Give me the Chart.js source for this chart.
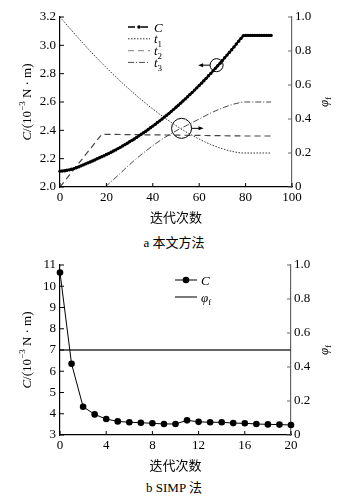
<!DOCTYPE html>
<html>
<head>
<meta charset="utf-8">
<script src="https://cdn.jsdelivr.net/npm/chart.js"></script>
<style>
  html, body { margin: 0; padding: 0; background: #fff; }
  #wrap { position: relative; width: 359px; height: 500px; }
  .box { position: absolute; left: 0; width: 359px; }
  .cap { position: absolute; left: 0; width: 348px; text-align: center; line-height: 18px;
         font-size: 13px; color: #000; font-family: "Liberation Serif", "Noto Sans CJK SC", serif; }
</style>
</head>
<body>
<div id="wrap">
  <div class="box" style="top:0;height:230px"><canvas id="topChart" width="359" height="230"></canvas></div>
  <div class="cap" style="top:234px">a 本文方法</div>
  <div class="box" style="top:248px;height:230px"><canvas id="simpChart" width="359" height="230"></canvas></div>
  <div class="cap" style="top:479px">b SIMP 法</div>
</div>

<script>
  // ---- data: chart a (本文方法) ----
  const topIter = Array.from({ length: 92 }, (_, i) => i);
  const topC = [
    2.112, 2.113, 2.115, 2.118, 2.121, 2.125, 2.130, 2.136, 2.142, 2.149,
    2.156, 2.163, 2.170, 2.177, 2.184, 2.191, 2.199, 2.206, 2.214, 2.221,
    2.229, 2.237, 2.245, 2.254, 2.262, 2.271, 2.280, 2.290, 2.299, 2.309,
    2.319, 2.329, 2.339, 2.350, 2.361, 2.372, 2.383, 2.394, 2.406, 2.418,
    2.430, 2.442, 2.455, 2.467, 2.480, 2.494, 2.507, 2.520, 2.534, 2.548,
    2.563, 2.577, 2.592, 2.607, 2.622, 2.637, 2.653, 2.668, 2.684, 2.700,
    2.717, 2.733, 2.750, 2.767, 2.785, 2.802, 2.820, 2.838, 2.856, 2.874,
    2.893, 2.912, 2.931, 2.950, 2.969, 2.989, 3.009, 3.029, 3.049, 3.068,
    3.070, 3.070, 3.070, 3.070, 3.070, 3.070, 3.070, 3.070, 3.070, 3.070,
    3.070, 3.070
  ];
  const t1Iter = [0, 5, 10, 15, 20, 25, 30, 35, 40, 45, 50, 55, 60, 65, 70, 75, 79, 91];
  const t1Val = [1.0, 0.921, 0.844, 0.771, 0.702, 0.635, 0.573, 0.514, 0.459, 0.408,
                 0.361, 0.319, 0.282, 0.250, 0.225, 0.207, 0.200, 0.200];
  const t2Iter = [0, 18, 50, 79, 91];
  const t2Val = [0, 0.31, 0.305, 0.30, 0.30];
  const t3Iter = [19.5, 25, 30, 35, 40, 45, 50, 55, 60, 65, 70, 75, 80, 91];
  const t3Val = [0, 0.068, 0.132, 0.19, 0.243, 0.29, 0.33, 0.365, 0.40, 0.435, 0.465, 0.488, 0.5, 0.5];
  const topNames = ['C', 't1', 't2', 't3'];
  const topXTicks = [0, 20, 40, 60, 80, 100];
  const topYTicks = [2.0, 2.2, 2.4, 2.6, 2.8, 3.0, 3.2];
  const phiTicks = [0, 0.2, 0.4, 0.6, 0.8, 1.0];

  // ---- data: chart b (SIMP 法) ----
  const simpIter = [0, 1, 2, 3, 4, 5, 6, 7, 8, 9, 10, 11, 12, 13, 14, 15, 16, 17, 18, 19, 20];
  const simpC = [10.65, 6.35, 4.33, 3.97, 3.75, 3.64, 3.60, 3.58, 3.55, 3.52, 3.52,
                 3.69, 3.62, 3.60, 3.60, 3.56, 3.55, 3.52, 3.50, 3.49, 3.47];
  const simpPhiIter = [0, 20];
  const simpPhi = [0.5, 0.5];
  const simpNames = ['C', 'φf'];
  const simpXTicks = [0, 4, 8, 12, 16, 20];
  const simpYTicks = [3, 4, 5, 6, 7, 8, 9, 10, 11];

  const SERIF = '"Liberation Serif", "DejaVu Serif", serif';
  const CJK = '"Noto Sans CJK SC", sans-serif';
  const tickFont = { family: SERIF, size: 13 };

  const pts = (xs, ys) => xs.map((x, i) => ({ x: x, y: ys[i] }));

  // rich text: first char italic, the rest as subscript
  function nameParts(name) {
    const p = [{ t: name[0], i: true }];
    if (name.length > 1) p.push({ t: name.slice(1), sub: true });
    return p;
  }
  const yTitleParts = [{ t: 'C', i: true }, { t: '/(10' }, { t: '−3', sup: true }, { t: ' N · m)' }];
  const rTitleParts = [{ t: 'φ', i: true }, { t: 'f', sub: true }];

  function setFont(ctx, p, size) {
    const s = (p.sub || p.sup) ? Math.round(size * 0.72) : size;
    ctx.font = (p.i ? 'italic ' : '') + s + 'px ' + SERIF;
  }
  function richWidth(ctx, parts, size) {
    return parts.reduce((w, p) => { setFont(ctx, p, size); return w + ctx.measureText(p.t).width; }, 0);
  }
  function drawRich(ctx, parts, x, y, size) {
    ctx.textAlign = 'left';
    ctx.textBaseline = 'alphabetic';
    let cx = x;
    parts.forEach(p => {
      setFont(ctx, p, size);
      const dy = p.sub ? size * 0.3 : p.sup ? -size * 0.4 : 0;
      ctx.fillText(p.t, cx, y + dy);
      cx += ctx.measureText(p.t).width;
    });
  }

  // ticks pointing into the plot
  const inwardTicks = {
    id: 'inwardTicks',
    afterDraw(chart) {
      const { ctx, chartArea: a } = chart;
      ctx.save();
      Object.values(chart.scales).forEach(s => {
        ctx.strokeStyle = s.options.border.color;
        ctx.lineWidth = 1;
        s.ticks.forEach(t => {
          const p = s.getPixelForValue(t.value);
          ctx.beginPath();
          if (s.isHorizontal()) { ctx.moveTo(p, a.bottom); ctx.lineTo(p, a.bottom - 4); }
          else if (s.position === 'left') { ctx.moveTo(a.left, p); ctx.lineTo(a.left + 4, p); }
          else { ctx.moveTo(a.right, p); ctx.lineTo(a.right - 4, p); }
          ctx.stroke();
        });
      });
      ctx.restore();
    }
  };

  // axis titles
  const axisTitles = {
    id: 'axisTitles',
    afterDraw(chart) {
      const { ctx, chartArea: a } = chart;
      const midY = (a.top + a.bottom) / 2;
      ctx.save();
      ctx.fillStyle = '#000';
      ctx.font = '13px ' + CJK;
      ctx.textAlign = 'center';
      ctx.textBaseline = 'middle';
      ctx.fillText('迭代次数', (a.left + a.right) / 2, a.bottom + 30);
      [[yTitleParts, 26], [rTitleParts, 323]].forEach(([parts, x]) => {
        ctx.save();
        ctx.translate(x, midY);
        ctx.rotate(-Math.PI / 2);
        drawRich(ctx, parts, -richWidth(ctx, parts, 13) / 2, 4.5, 13);
        ctx.restore();
      });
      ctx.restore();
    }
  };

  // legend drawn by hand to keep subscripts
  const sketchLegend = {
    id: 'sketchLegend',
    afterDraw(chart, args, o) {
      const ctx = chart.ctx;
      ctx.save();
      chart.data.datasets.forEach((ds, i) => {
        const y = o.y0 + i * o.dy;
        ctx.strokeStyle = ds.legendColor || ds.borderColor;
        ctx.lineWidth = Math.min(ds.borderWidth, 1.3);
        ctx.setLineDash(ds.sampleDash || ds.borderDash || []);
        ctx.beginPath();
        ctx.moveTo(o.x0, y);
        ctx.lineTo(o.x1, y);
        ctx.stroke();
        ctx.setLineDash([]);
        if (ds.pointRadius > 0) {
          ctx.fillStyle = ds.pointBackgroundColor;
          ctx.beginPath();
          ctx.arc((o.x0 + o.x1) / 2, y, Math.max(ds.pointRadius, 1.8), 0, 2 * Math.PI);
          ctx.fill();
        }
        ctx.fillStyle = '#000';
        drawRich(ctx, nameParts(ds.label), o.x1 + 4, y + 4.5, 13);
      });
      ctx.restore();
    }
  };

  // circles with arrows that point to the axis each curve belongs to
  const curveNotes = {
    id: 'curveNotes',
    afterDatasetsDraw(chart, args, o) {
      const ctx = chart.ctx;
      ctx.save();
      ctx.strokeStyle = '#000';
      ctx.fillStyle = '#000';
      ctx.lineWidth = 1;
      (o.items || []).forEach(m => {
        const cx = chart.scales.x.getPixelForValue(m.x);
        const cy = chart.scales[m.axis].getPixelForValue(m.y);
        ctx.beginPath();
        ctx.arc(cx, cy, m.r, 0, 2 * Math.PI);
        ctx.stroke();
        const sx = cx + m.dir * m.r, ex = sx + m.dir * 12;
        ctx.beginPath();
        ctx.moveTo(sx, cy);
        ctx.lineTo(ex - m.dir * 3, cy);
        ctx.stroke();
        ctx.beginPath();
        ctx.moveTo(ex, cy);
        ctx.lineTo(ex - m.dir * 5, cy - 2);
        ctx.lineTo(ex - m.dir * 5, cy + 2);
        ctx.closePath();
        ctx.fill();
      });
      ctx.restore();
    }
  };

  function axis(pos, min, max, ticks, fmt, size, color) {
    const o = {
      type: 'linear', position: pos, min: min, max: max,
      afterBuildTicks: s => { s.ticks = ticks.map(v => ({ value: v })); },
      grid: { display: false, drawTicks: false },
      border: { color: color, width: 1.2 },
      ticks: { color: '#000', font: tickFont, padding: pos === 'left' ? 4 : 3, maxRotation: 0, callback: fmt }
    };
    if (pos === 'bottom') o.afterFit = s => { s.height = size; };
    else o.afterFit = s => { s.width = size; };
    return o;
  }
  const fmtPhi = v => (v === 0 ? '0' : v.toFixed(1));

  new Chart(document.getElementById('topChart'), {
    type: 'line',
    data: {
      datasets: [
        { label: topNames[0], data: pts(topIter, topC), yAxisID: 'y', borderColor: '#000', borderWidth: 2,
          pointRadius: 1.7, pointBackgroundColor: '#000', pointBorderWidth: 0, sampleDash: [7, 6], clip: false },
        { label: topNames[1], data: pts(t1Iter, t1Val), yAxisID: 'y1', borderColor: '#333', borderWidth: 1,
          borderDash: [1.5, 1.5], pointRadius: 0, cubicInterpolationMode: 'monotone' },
        { label: topNames[2], data: pts(t2Iter, t2Val), yAxisID: 'y1', borderColor: '#444', borderWidth: 1.2,
          borderDash: [6, 4], pointRadius: 0, tension: 0, legendColor: '#999' },
        { label: topNames[3], data: pts(t3Iter, t3Val), yAxisID: 'y1', borderColor: '#333', borderWidth: 0.9,
          borderDash: [6, 2, 1, 2], pointRadius: 0, cubicInterpolationMode: 'monotone' }
      ]
    },
    options: {
      responsive: false,
      animation: false,
      layout: { padding: { top: 17, left: 0, right: 0, bottom: 0 } },
      plugins: {
        legend: { display: false },
        tooltip: { enabled: false },
        sketchLegend: { x0: 128, x1: 150, y0: 27, dy: 11.8 },
        curveNotes: { items: [
          { x: 67.5, y: 2.86, axis: 'y', r: 6.5, dir: -1 },
          { x: 52.4, y: 0.345, axis: 'y1', r: 10, dir: 1 }
        ] }
      },
      scales: {
        x: axis('bottom', 0, 100, topXTicks, v => String(v), 43, '#000'),
        y: axis('left', 2.0, 3.2, topYTicks, v => v.toFixed(1), 60, '#000'),
        y1: axis('right', 0, 1, phiTicks, fmtPhi, 67, '#666')
      }
    },
    plugins: [inwardTicks, axisTitles, sketchLegend, curveNotes]
  });

  new Chart(document.getElementById('simpChart'), {
    type: 'line',
    data: {
      datasets: [
        { label: simpNames[0], data: pts(simpIter, simpC), yAxisID: 'y', borderColor: '#000', borderWidth: 1,
          pointRadius: 3.3, pointBackgroundColor: '#000', pointBorderWidth: 0, tension: 0, clip: false },
        { label: simpNames[1], data: pts(simpPhiIter, simpPhi), yAxisID: 'y1', borderColor: '#333', borderWidth: 1.5,
          pointRadius: 0, tension: 0 }
      ]
    },
    options: {
      responsive: false,
      animation: false,
      layout: { padding: { top: 17, left: 0, right: 0, bottom: 0 } },
      plugins: {
        legend: { display: false },
        tooltip: { enabled: false },
        sketchLegend: { x0: 175, x1: 197, y0: 32, dy: 17 }
      },
      scales: {
        x: axis('bottom', 0, 20, simpXTicks, v => String(v), 43, '#000'),
        y: axis('left', 3, 11, simpYTicks, v => String(v), 60, '#000'),
        y1: axis('right', 0, 1, phiTicks, fmtPhi, 68, '#666')
      }
    },
    plugins: [inwardTicks, axisTitles, sketchLegend]
  });
</script>
</body>
</html>
